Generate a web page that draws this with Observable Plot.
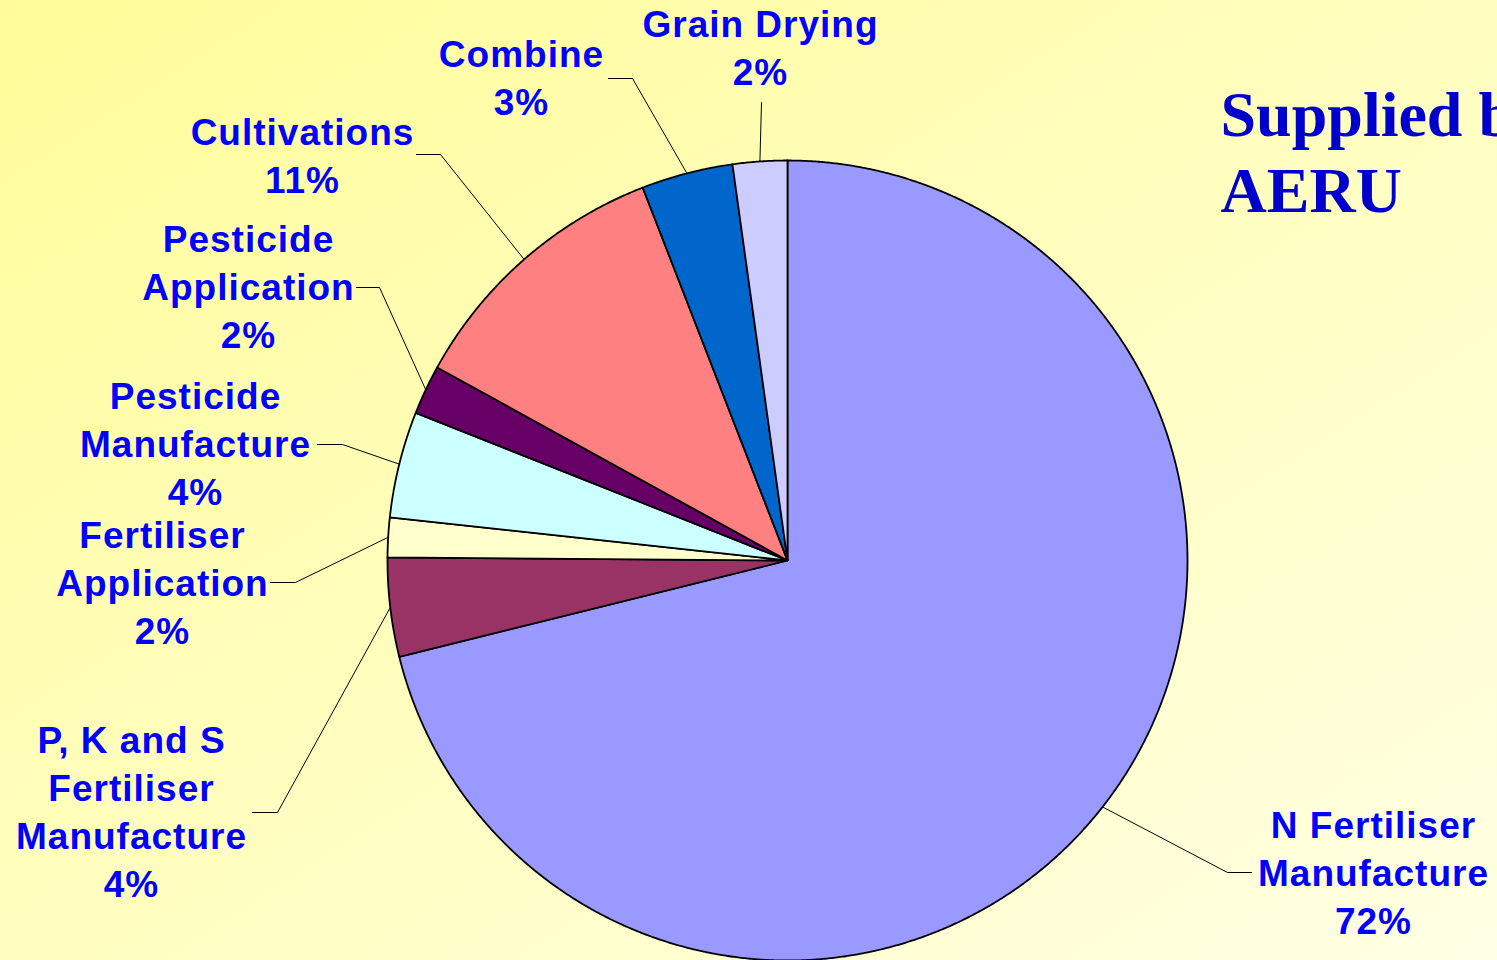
<!DOCTYPE html>
<html><head><meta charset="utf-8">
<script src="https://cdn.jsdelivr.net/npm/d3@7"></script>
<script src="https://cdn.jsdelivr.net/npm/@observablehq/plot@0.6"></script>
<style>
html,body{margin:0;padding:0;overflow:hidden;}
body{width:1497px;height:960px;background:linear-gradient(to bottom right,#FFFC99,#FFFFE4);}
#chart svg{display:block;}
#chart svg g[font-size="37"]{letter-spacing:1px;}
</style></head><body><div id="chart"></div>
<script>
// ---- data ----
const categories = ["N Fertiliser Manufacture","P, K and S Fertiliser Manufacture","Fertiliser Application","Pesticide Manufacture","Pesticide Application","Cultivations","Combine","Grain Drying"];
const values = [71.2, 4.0, 1.6, 4.3, 2.0, 11.1, 3.7, 2.2];
const pctLabels = ["72%","4%","2%","4%","2%","11%","3%","2%"];
const labelNames = ["N Fertiliser\nManufacture","P, K and S\nFertiliser\nManufacture","Fertiliser\nApplication","Pesticide\nManufacture","Pesticide\nApplication","Cultivations","Combine","Grain Drying"];
const colors = ["#9999FF","#993366","#FFFFCC","#CCFFFF","#660066","#FF8080","#0066CC","#CCCCFF"];
const titleText = "Supplied by\nAERU";

// ---- layout (radius units, pie centre = 0,0) ----
const labelPos = [[1.465,-0.6075],[-1.64,-0.395],[-1.5625,0.1175],[-1.48,0.465],[-1.3475,0.8575],[-1.2125,1.125],[-0.665,1.32],[-0.0675,1.395]];
const elbows = [[1.1,-0.78],[-1.275,-0.63],[-1.23,-0.055],[-1.1125,0.29],[-1.02,0.6825],[-0.8675,1.015],[-0.3875,1.205],[-0.065,1.145]];
const ends   = [[1.16,-0.78],[-1.3375,-0.63],[-1.2925,-0.055],[-1.175,0.29],[-1.0775,0.6825],[-0.9275,1.015],[-0.4475,1.205],[-0.065,1.145]];

const total = d3.sum(values);
const slices = [];
const leaders = [];
let cum = 0;
values.forEach((v, i) => {
  const a0 = cum / total * 2 * Math.PI;
  cum += v;
  const a1 = cum / total * 2 * Math.PI;
  const name = categories[i];
  slices.push({name, x: 0, y: 0});
  const n = Math.max(2, Math.ceil((a1 - a0) / (Math.PI / 720)));
  for (let k = 0; k <= n; k++) {
    const t = a0 + (a1 - a0) * k / n;
    slices.push({name, x: Math.sin(t), y: Math.cos(t)});
  }
  const am = (a0 + a1) / 2;
  leaders.push({name, x: Math.sin(am), y: Math.cos(am)});
  leaders.push({name, x: elbows[i][0], y: elbows[i][1]});
  leaders.push({name, x: ends[i][0], y: ends[i][1]});
});
const labels = categories.map((name, i) => ({name, text: labelNames[i] + "\n" + pctLabels[i], x: labelPos[i][0], y: labelPos[i][1]}));

const plot = Plot.plot({
  width: 1497,
  height: 960,
  marginLeft: 387,
  marginRight: 310,
  marginTop: 160,
  marginBottom: 0,
  x: {domain: [-1, 1], axis: null},
  y: {domain: [-1, 1], axis: null},
  color: {domain: categories, range: colors},
  style: {background: "transparent", overflow: "hidden"},
  marks: [
    Plot.line(slices, {x: "x", y: "y", z: "name", fill: "name", stroke: "black", strokeWidth: 1.8, curve: "linear-closed", strokeLinejoin: "round"}),
    Plot.line(leaders, {x: "x", y: "y", z: "name", stroke: "black", strokeWidth: 1}),
    Plot.text(labels, {x: "x", y: "y", text: "text", textAnchor: "middle", lineAnchor: "top", lineHeight: 1.297, fontSize: 37, fontWeight: "bold", fontFamily: "Liberation Sans, Arial, sans-serif", fill: "#0000FF"}),
    Plot.text([titleText], {x: 1.0825, y: 1.1985, text: d => d, textAnchor: "start", lineAnchor: "top", lineHeight: 1.2, fontSize: 64, fontWeight: "bold", fontFamily: "Liberation Serif, Times New Roman, serif", fill: "#0000CC"})
  ]
});
document.getElementById("chart").appendChild(plot);
</script></body></html>
